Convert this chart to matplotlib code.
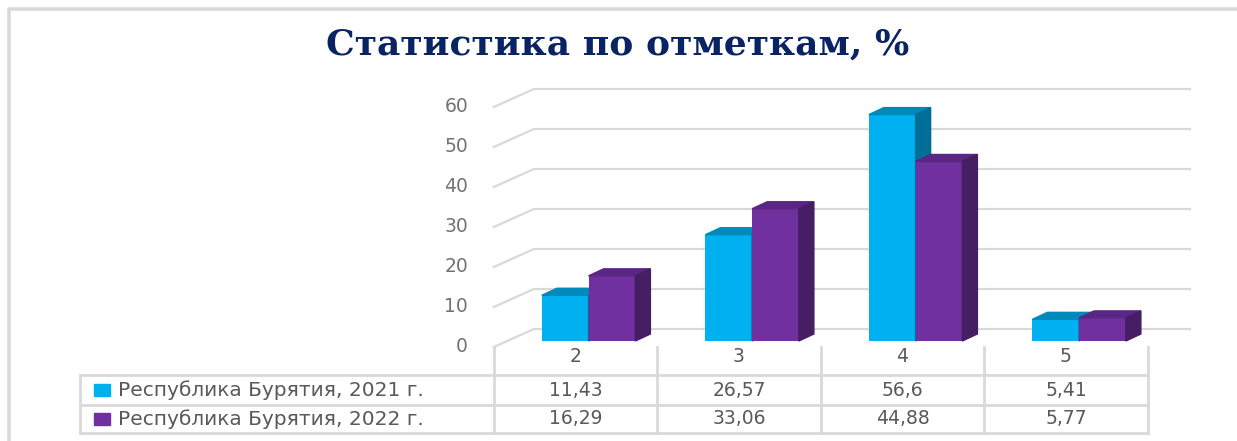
import numpy as np
import matplotlib
matplotlib.use("Agg")
import matplotlib.pyplot as plt
from matplotlib.patches import Polygon, Rectangle

# ---------------------------------------------------------------- data
categories = ["2", "3", "4", "5"]
series_names = ["Республика Бурятия, 2021 г.", "Республика Бурятия, 2022 г."]
values_2021 = [11.43, 26.57, 56.6, 5.41]
values_2022 = [16.29, 33.06, 44.88, 5.77]
yticks = [0, 10, 20, 30, 40, 50, 60]
title = "Статистика по отметкам, %"

# ---------------------------------------------------------------- style
CYAN = ("#00B0F0", "#0089BA", "#006E96")     # front, top, side
PURPLE = ("#7030A0", "#5A2685", "#461E63")
GRID = "#D9D9D9"
TXT = "#595959"
NAVY = "#0A2463"

BW = 0.286          # bar width (category units)
OFF = 0.08          # bar pair offset from column centre
DX, DY = 0.092, 1.75  # bar depth
BACK_X, BACK_DY, FRONT_DY = -0.255, 3.0, -1.5
RIGHT_X = 3.758
XMIN, XMAX = -575.5 / 163.5, (1237 - 575.5) / 163.5

fig = plt.figure(figsize=(12.37, 4.41), dpi=100)
fig.patch.set_facecolor("white")
ax = fig.add_axes([0, 0, 1, 1])
ax.set_xlim(XMIN, XMAX)
ax.set_ylim(-25, 85.25)
ax.axis("off")

# outer frame (left + top)
fx, fy = -3.462, 82.9
ax.plot([fx, fx, XMAX + 0.05], [-26, fy, fy], color=GRID, lw=2.6,
        solid_capstyle="butt", clip_on=True)

ax.text(0.26, 74, title, ha="center", va="center", fontsize=26,
        fontweight="bold", family="DejaVu Serif", color=NAVY)

# back wall gridlines with perspective slant
for v in yticks:
    ax.plot([-0.5, BACK_X, RIGHT_X], [v + FRONT_DY, v + BACK_DY, v + BACK_DY],
            color=GRID, lw=1.6, zorder=1)
    ax.text(-0.657, v + FRONT_DY, str(v), ha="right", va="center",
            fontsize=13.5, color="#737373")


def bar3d(x0, h, cols):
    ax.bar(x0, h, width=BW, align="edge", color=cols[0], zorder=3)
    top = [(x0, h), (x0 + DX, h + DY), (x0 + BW + DX, h + DY), (x0 + BW, h)]
    side = [(x0 + BW, 0), (x0 + BW + DX, DY), (x0 + BW + DX, h + DY), (x0 + BW, h)]
    ax.add_patch(Polygon(top, closed=True, color=cols[1], zorder=3))
    ax.add_patch(Polygon(side, closed=True, color=cols[2], zorder=3))


x = np.arange(len(categories))
for i in x:
    bar3d(i + OFF - BW, values_2021[i], CYAN)
    bar3d(i + OFF, values_2022[i], PURPLE)

# ---------------------------------------------------------------- data table
left = -3.03
r_top, r_mid, r_bot = -8.5, -16.0, -23.0
for y in (r_top, r_mid, r_bot):
    ax.plot([left, len(categories) - 0.5], [y, y], color=GRID, lw=2, zorder=1)
ax.plot([left, left], [r_top, r_bot], color=GRID, lw=2, zorder=1)
for k in range(len(categories) + 1):
    xe = k - 0.5
    ax.plot([xe, xe], [FRONT_DY, r_bot], color=GRID, lw=2, zorder=1)

row_y = [(r_top + r_mid) / 2, (r_mid + r_bot) / 2]
for i, c in enumerate(categories):
    ax.text(i, -4.0, c, ha="center", va="center", fontsize=13.5, color=TXT)
for series, vals, cols, ry in zip(series_names, [values_2021, values_2022],
                                  [CYAN, PURPLE], row_y):
    ax.add_patch(Rectangle((-2.945, ry - 1.4), 0.098, 2.8, color=cols[0]))
    ax.text(-2.80, ry, series, ha="left", va="center", fontsize=14.5, color=TXT)
    for i, v in enumerate(vals):
        lab = f"{v:g}".replace(".", ",")
        ax.text(i, ry, lab, ha="center", va="center", fontsize=13.5, color=TXT)

plt.savefig("out.png", dpi=100, facecolor="white")
plt.close(fig)
